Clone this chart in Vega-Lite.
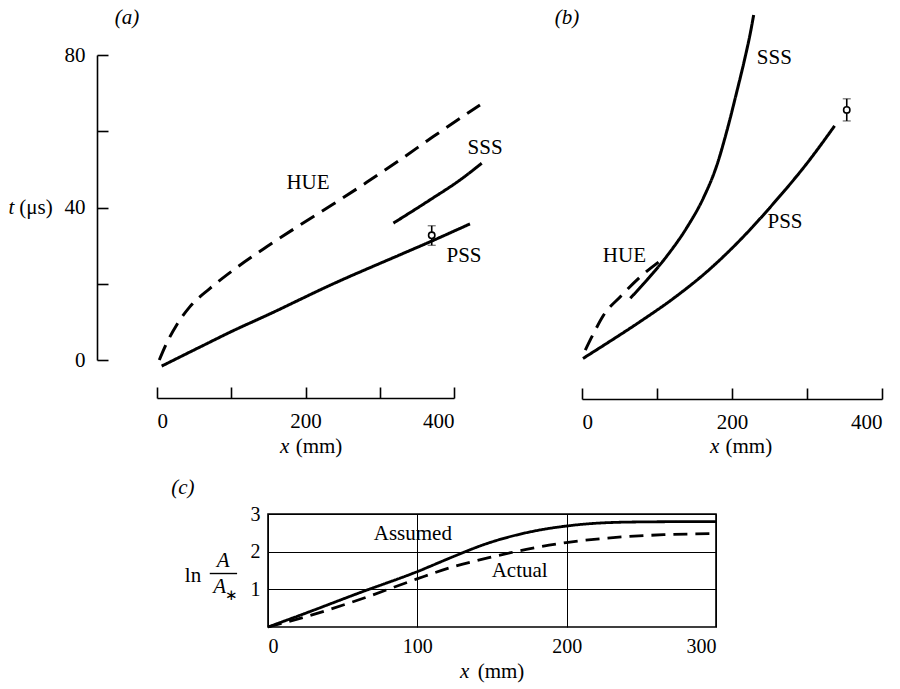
{
  "$schema": "https://vega.github.io/schema/vega-lite/v6.json",
  "autosize": {"type": "none"},
  "padding": {"left": 157, "top": 55, "right": 743, "bottom": 634},
  "background": "white",
  "config": {
    "font": "Liberation Serif",
    "axis": {"labelFont": "Liberation Serif", "labelFontSize": 21, "labelColor": "black", "domainColor": "black", "tickColor": "black", "domainWidth": 1.6, "tickWidth": 1.6, "grid": false},
    "text": {"font": "Liberation Serif", "fontSize": 21, "color": "black"}
  },
  "datasets": {
    "ab_lines": [
      {"panel": "a", "series": "HUE", "x": 3.1, "t": 0},
      {"panel": "a", "series": "HUE", "x": 13, "t": 4.4},
      {"panel": "a", "series": "HUE", "x": 26.5, "t": 9.2},
      {"panel": "a", "series": "HUE", "x": 44.4, "t": 14},
      {"panel": "a", "series": "HUE", "x": 71.4, "t": 18.8},
      {"panel": "a", "series": "HUE", "x": 102.8, "t": 23.6},
      {"panel": "a", "series": "HUE", "x": 147.7, "t": 29.7},
      {"panel": "a", "series": "HUE", "x": 192.6, "t": 35.4},
      {"panel": "a", "series": "HUE", "x": 237.5, "t": 40.9},
      {"panel": "a", "series": "HUE", "x": 282.4, "t": 46.6},
      {"panel": "a", "series": "HUE", "x": 327.3, "t": 52.5},
      {"panel": "a", "series": "HUE", "x": 372.1, "t": 58.6},
      {"panel": "a", "series": "HUE", "x": 435, "t": 66.9},
      {"panel": "a", "series": "PSS", "x": 6.3, "t": -1.6},
      {"panel": "a", "series": "PSS", "x": 57.9, "t": 3.4},
      {"panel": "a", "series": "PSS", "x": 102.8, "t": 7.7},
      {"panel": "a", "series": "PSS", "x": 147.7, "t": 11.7},
      {"panel": "a", "series": "PSS", "x": 237.5, "t": 20},
      {"panel": "a", "series": "PSS", "x": 327.3, "t": 27.6},
      {"panel": "a", "series": "PSS", "x": 367.7, "t": 31},
      {"panel": "a", "series": "PSS", "x": 421.5, "t": 35.7},
      {"panel": "a", "series": "SSS", "x": 318.4, "t": 35.9},
      {"panel": "a", "series": "SSS", "x": 367.7, "t": 42},
      {"panel": "a", "series": "SSS", "x": 408, "t": 47.2},
      {"panel": "a", "series": "SSS", "x": 437.3, "t": 51.6},
      {"panel": "b", "series": "PSS", "x": 1.3, "t": 0.4},
      {"panel": "b", "series": "PSS", "x": 33.3, "t": 4.4},
      {"panel": "b", "series": "PSS", "x": 77.7, "t": 10.1},
      {"panel": "b", "series": "PSS", "x": 122.2, "t": 16.2},
      {"panel": "b", "series": "PSS", "x": 166.7, "t": 23.2},
      {"panel": "b", "series": "PSS", "x": 211, "t": 31.5},
      {"panel": "b", "series": "PSS", "x": 255.5, "t": 41.1},
      {"panel": "b", "series": "PSS", "x": 300, "t": 51.6},
      {"panel": "b", "series": "PSS", "x": 336.8, "t": 61.4},
      {"panel": "b", "series": "SSS", "x": 64.4, "t": 16.2},
      {"panel": "b", "series": "SSS", "x": 86.7, "t": 21},
      {"panel": "b", "series": "SSS", "x": 113.3, "t": 27.3},
      {"panel": "b", "series": "SSS", "x": 140, "t": 34.8},
      {"panel": "b", "series": "SSS", "x": 162.1, "t": 42.6},
      {"panel": "b", "series": "SSS", "x": 180, "t": 51.2},
      {"panel": "b", "series": "SSS", "x": 193.3, "t": 60.2},
      {"panel": "b", "series": "SSS", "x": 206.7, "t": 70.6},
      {"panel": "b", "series": "SSS", "x": 217.7, "t": 79.6},
      {"panel": "b", "series": "SSS", "x": 224.4, "t": 85.7},
      {"panel": "b", "series": "SSS", "x": 228.9, "t": 90.5},
      {"panel": "b", "series": "HUE", "x": 4.4, "t": 2.6},
      {"panel": "b", "series": "HUE", "x": 15.5, "t": 7},
      {"panel": "b", "series": "HUE", "x": 28.9, "t": 11.8},
      {"panel": "b", "series": "HUE", "x": 51.1, "t": 16.6},
      {"panel": "b", "series": "HUE", "x": 77.7, "t": 21.8},
      {"panel": "b", "series": "HUE", "x": 108.9, "t": 26.7}
    ],
    "ab_points": [
      {"panel": "a", "x": 370, "t": 32.7, "lo": 30.1, "hi": 35.2},
      {"panel": "b", "x": 353, "t": 65.6, "lo": 62.7, "hi": 68.5}
    ],
    "ab_labels": [
      {"panel": "a", "x": 203.4, "t": 46.4, "label": "HUE"},
      {"panel": "a", "x": 441.8, "t": 55.5, "label": "SSS"},
      {"panel": "a", "x": 413.5, "t": 27.3, "label": "PSS"},
      {"panel": "a", "x": -163, "t": 40, "label": "(μs)"},
      {"panel": "a", "x": 218.2, "t": -22.8, "label": "(mm)"},
      {"panel": "b", "x": 256.4, "t": 79.3, "label": "SSS"},
      {"panel": "b", "x": 270.7, "t": 36.1, "label": "PSS"},
      {"panel": "b", "x": 56.6, "t": 27.3, "label": "HUE"},
      {"panel": "b", "x": 222.5, "t": -22.7, "label": "(mm)"}
    ],
    "ab_italic": [
      {"panel": "a", "x": -40.4, "t": 89.7, "label": "(a)"},
      {"panel": "a", "x": -196, "t": 40, "label": "t"},
      {"panel": "a", "x": 172, "t": -22.8, "label": "x"},
      {"panel": "b", "x": -20, "t": 89.7, "label": "(b)"},
      {"panel": "b", "x": 177, "t": -22.7, "label": "x"}
    ],
    "c_lines": [
      {"series": "Assumed", "x": 0, "v": 0},
      {"series": "Assumed", "x": 23.4, "v": 0.34},
      {"series": "Assumed", "x": 61.4, "v": 0.91},
      {"series": "Assumed", "x": 99.3, "v": 1.46},
      {"series": "Assumed", "x": 126, "v": 1.9},
      {"series": "Assumed", "x": 144, "v": 2.18},
      {"series": "Assumed", "x": 177.4, "v": 2.54},
      {"series": "Assumed", "x": 199.7, "v": 2.68},
      {"series": "Assumed", "x": 222, "v": 2.76},
      {"series": "Assumed", "x": 250, "v": 2.79},
      {"series": "Assumed", "x": 300, "v": 2.8},
      {"series": "Actual", "x": 0, "v": 0},
      {"series": "Actual", "x": 23.4, "v": 0.25},
      {"series": "Actual", "x": 61.4, "v": 0.73},
      {"series": "Actual", "x": 99.3, "v": 1.27},
      {"series": "Actual", "x": 121.6, "v": 1.57},
      {"series": "Actual", "x": 150, "v": 1.86},
      {"series": "Actual", "x": 173, "v": 2.06},
      {"series": "Actual", "x": 199.7, "v": 2.24},
      {"series": "Actual", "x": 233, "v": 2.38},
      {"series": "Actual", "x": 265, "v": 2.45},
      {"series": "Actual", "x": 300, "v": 2.48}
    ],
    "c_labels": [
      {"x": 97, "v": 2.46, "label": "Assumed"},
      {"x": 168.5, "v": 1.49, "label": "Actual"},
      {"x": -50.2, "v": 1.35, "label": "ln"},
      {"x": 156, "v": -1.2, "label": "(mm)"}
    ],
    "c_italic": [
      {"x": -57, "v": 3.68, "label": "(c)"},
      {"x": -30, "v": 1.74, "label": "A"},
      {"x": -32.3, "v": 1.07, "label": "A"},
      {"x": 131.7, "v": -1.2, "label": "x"}
    ],
    "c_star": [
      {"x": -24.5, "v": 0.86, "label": "∗"}
    ],
    "c_bar": [
      {"x": -39, "x2": -20.7, "v": 1.42}
    ]
  },
  "spacing": 459,
  "bounds": "flush",
  "vconcat": [
    {
      "spacing": 128,
      "bounds": "flush",
      "hconcat": [
        {
          "width": 297,
          "height": 305,
          "view": {"stroke": null},
          "encoding": {
            "x": {"field": "x", "type": "quantitative", "scale": {"domain": [0, 400]}, "axis": {"title": null, "values": [0, 100, 200, 300, 400], "labelExpr": "datum.value % 200 == 0 ? datum.label : ''", "offset": 38, "tickSize": -11, "labelPadding": 23}},
            "y": {"field": "t", "type": "quantitative", "scale": {"domain": [0, 80]}, "axis": {"title": null, "values": [0, 20, 40, 60, 80], "labelExpr": "datum.value % 40 == 0 ? datum.label : ''", "offset": 60, "tickSize": -11, "labelPadding": 23}}
          },
          "layer": [
            {
              "data": {"name": "ab_lines"},
              "transform": [{"filter": "datum.panel == 'a'"}],
              "mark": {"type": "line", "strokeWidth": 3, "interpolate": "monotone", "color": "black"},
              "encoding": {
                "detail": {"field": "series"},
                "strokeDash": {"field": "series", "type": "nominal", "scale": {"domain": ["HUE", "PSS", "SSS", "Assumed", "Actual"], "range": [[16, 9], [1, 0], [1, 0], [1, 0], [14, 8]]}, "legend": null}
              }
            },
            {
              "data": {"name": "ab_points"},
              "transform": [{"filter": "datum.panel == 'a'"}],
              "mark": {"type": "errorbar", "color": "black", "ticks": {"size": 8, "strokeWidth": 1.6}, "rule": {"strokeWidth": 1.6}},
              "encoding": {"y": {"field": "lo", "type": "quantitative"}, "y2": {"field": "hi"}}
            },
            {
              "data": {"name": "ab_points"},
              "transform": [{"filter": "datum.panel == 'a'"}],
              "mark": {"type": "point", "shape": "circle", "filled": true, "fill": "white", "stroke": "black", "strokeWidth": 1.6, "size": 40, "opacity": 1}
            },
            {
              "data": {"name": "ab_labels"},
              "transform": [{"filter": "datum.panel == 'a'"}],
              "mark": {"type": "text", "align": "center", "baseline": "middle"},
              "encoding": {"text": {"field": "label"}}
            },
            {
              "data": {"name": "ab_italic"},
              "transform": [{"filter": "datum.panel == 'a'"}],
              "mark": {"type": "text", "align": "center", "baseline": "middle", "fontStyle": "italic"},
              "encoding": {"text": {"field": "label"}}
            }
          ]
        },
        {
          "width": 300,
          "height": 305,
          "view": {"stroke": null},
          "encoding": {
            "x": {"field": "x", "type": "quantitative", "scale": {"domain": [0, 400]}, "axis": {"title": null, "values": [0, 100, 200, 300, 400], "labelExpr": "datum.value % 200 == 0 ? datum.label : ''", "offset": 39, "tickSize": -11, "labelPadding": 23}},
            "y": {"field": "t", "type": "quantitative", "scale": {"domain": [0, 80]}, "axis": null}
          },
          "layer": [
            {
              "data": {"name": "ab_lines"},
              "transform": [{"filter": "datum.panel == 'b'"}],
              "mark": {"type": "line", "strokeWidth": 3, "interpolate": "monotone", "color": "black"},
              "encoding": {
                "detail": {"field": "series"},
                "strokeDash": {"field": "series", "type": "nominal", "scale": {"domain": ["HUE", "PSS", "SSS", "Assumed", "Actual"], "range": [[16, 9], [1, 0], [1, 0], [1, 0], [14, 8]]}, "legend": null}
              }
            },
            {
              "data": {"name": "ab_points"},
              "transform": [{"filter": "datum.panel == 'b'"}],
              "mark": {"type": "errorbar", "color": "black", "ticks": {"size": 8, "strokeWidth": 1.6}, "rule": {"strokeWidth": 1.6}},
              "encoding": {"y": {"field": "lo", "type": "quantitative"}, "y2": {"field": "hi"}}
            },
            {
              "data": {"name": "ab_points"},
              "transform": [{"filter": "datum.panel == 'b'"}],
              "mark": {"type": "point", "shape": "circle", "filled": true, "fill": "white", "stroke": "black", "strokeWidth": 1.6, "size": 40, "opacity": 1}
            },
            {
              "data": {"name": "ab_labels"},
              "transform": [{"filter": "datum.panel == 'b'"}],
              "mark": {"type": "text", "align": "center", "baseline": "middle"},
              "encoding": {"text": {"field": "label"}}
            },
            {
              "data": {"name": "ab_italic"},
              "transform": [{"filter": "datum.panel == 'b'"}],
              "mark": {"type": "text", "align": "center", "baseline": "middle", "fontStyle": "italic"},
              "encoding": {"text": {"field": "label"}}
            }
          ]
        }
      ]
    },
    {
      "spacing": 0,
      "bounds": "flush",
      "hconcat": [
        {
          "width": 111,
          "height": 113,
          "view": {"stroke": null},
          "data": {"values": [{"label": ""}]},
          "mark": {"type": "text"},
          "encoding": {"text": {"field": "label"}}
        },
        {
          "width": 448,
          "height": 113,
          "view": {"stroke": "black", "strokeWidth": 1.6},
          "encoding": {
            "x": {"field": "x", "type": "quantitative", "scale": {"domain": [0, 300]}, "axis": {"title": null, "values": [0, 100, 200, 300], "grid": true, "gridColor": "black", "gridWidth": 1, "gridOpacity": 1, "ticks": false, "domain": false, "labelPadding": 9, "labelFontSize": 20}},
            "y": {"field": "v", "type": "quantitative", "scale": {"domain": [0, 3]}, "axis": {"title": null, "values": [1, 2, 3], "grid": true, "gridColor": "black", "gridWidth": 1, "gridOpacity": 1, "ticks": false, "domain": false, "labelPadding": 8, "labelFontSize": 20}}
          },
          "layer": [
            {
              "data": {"name": "c_lines"},
              "mark": {"type": "line", "strokeWidth": 2.8, "interpolate": "monotone", "color": "black"},
              "encoding": {
                "detail": {"field": "series"},
                "strokeDash": {"field": "series", "type": "nominal", "scale": {"domain": ["HUE", "PSS", "SSS", "Assumed", "Actual"], "range": [[16, 9], [1, 0], [1, 0], [1, 0], [14, 8]]}, "legend": null}
              }
            },
            {
              "data": {"name": "c_labels"},
              "mark": {"type": "text", "align": "center", "baseline": "middle"},
              "encoding": {"text": {"field": "label"}}
            },
            {
              "data": {"name": "c_italic"},
              "mark": {"type": "text", "align": "center", "baseline": "middle", "fontStyle": "italic"},
              "encoding": {"text": {"field": "label"}}
            },
            {
              "data": {"name": "c_star"},
              "mark": {"type": "text", "align": "center", "baseline": "middle", "fontSize": 15},
              "encoding": {"text": {"field": "label"}}
            },
            {
              "data": {"name": "c_bar"},
              "mark": {"type": "rule", "color": "black", "strokeWidth": 1.4},
              "encoding": {"x2": {"field": "x2"}}
            }
          ]
        }
      ]
    }
  ]
}
